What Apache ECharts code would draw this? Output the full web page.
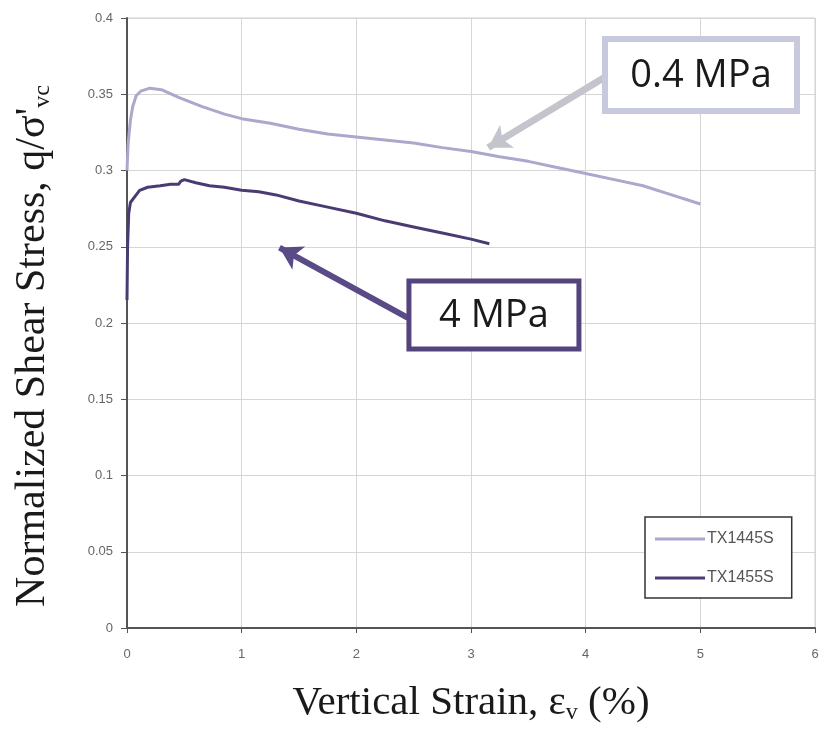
<!DOCTYPE html>
<html>
<head>
<meta charset="utf-8">
<script src="https://cdn.jsdelivr.net/npm/echarts@6/dist/echarts.min.js"></script>
<style>
  html, body { margin: 0; padding: 0; background: #fff; }
  #chart { width: 822px; height: 730px; }
</style>
</head>
<body>
<div id="chart"></div>
<script>
// Strain (%) and normalized shear stress for the two triaxial tests
const strainTX1445S = [0, 0.01, 0.03, 0.05, 0.08, 0.12, 0.2, 0.3, 0.45, 0.65, 0.85, 1.0, 1.25, 1.5, 1.75, 2.0, 2.25, 2.5, 2.75, 3.0, 3.25, 3.5, 3.75, 4.0, 4.25, 4.5, 4.75, 5.0];
const stressTX1445S = [0.300, 0.318, 0.333, 0.342, 0.349, 0.352, 0.354, 0.353, 0.348, 0.342, 0.337, 0.334, 0.331, 0.327, 0.324, 0.322, 0.320, 0.318, 0.315, 0.3125, 0.309, 0.306, 0.302, 0.298, 0.294, 0.290, 0.284, 0.278];

const strainTX1455S = [0, 0.005, 0.015, 0.03, 0.06, 0.11, 0.18, 0.29, 0.38, 0.45, 0.47, 0.5, 0.6, 0.72, 0.85, 1.0, 1.15, 1.3, 1.5, 1.75, 2.0, 2.25, 2.5, 2.75, 3.0, 3.16];
const stressTX1455S = [0.215, 0.250, 0.272, 0.279, 0.282, 0.287, 0.289, 0.290, 0.291, 0.291, 0.293, 0.294, 0.292, 0.290, 0.289, 0.287, 0.286, 0.284, 0.280, 0.276, 0.272, 0.267, 0.263, 0.259, 0.255, 0.252];

const seriesNames = ['TX1445S', 'TX1455S'];
const xTicks = [0, 1, 2, 3, 4, 5, 6];
const yTicks = [0, 0.05, 0.1, 0.15, 0.2, 0.25, 0.3, 0.35, 0.4];

// Callouts: label, box centre and arrow (tail -> head), in data units
const calloutLabels = ['0.4 MPa', '4 MPa'];
const calloutCentres = [[5.006, 0.3626], [3.20, 0.2052]];
const calloutArrows = [
  [[4.17, 0.3613], [3.15, 0.3150]],
  [[2.45, 0.2033], [1.33, 0.2495]]
];

const lightColor = '#aaa8cc';
const darkColor = '#4b3b73';

const zip = (xs, ys) => xs.map((x, i) => [x, ys[i]]);

const chart = echarts.init(document.getElementById('chart'), null, { renderer: 'canvas' });

const tickFont = { fontFamily: 'Liberation Sans', fontSize: 13, color: '#666' };
const titleSub = { fontFamily: 'Liberation Serif', fontSize: 24, color: '#1a1a1a', verticalAlign: 'bottom', padding: [20, 0, 0, 0] };

chart.setOption({
  animation: false,
  backgroundColor: '#fff',
  grid: {
    left: 127, right: 7, top: 18, bottom: 102, outerBoundsMode: 'none',
    show: true, borderColor: '#d0d0d0', borderWidth: 1
  },
  xAxis: {
    type: 'value', min: 0, max: 6, interval: 1,
    name: 'Vertical Strain, ε{sub|v} (%)',
    nameLocation: 'middle', nameGap: 53,
    nameTextStyle: {
      fontFamily: 'Liberation Serif', fontSize: 41, color: '#1a1a1a',
      rich: { sub: titleSub }
    },
    axisLine: { lineStyle: { color: '#555', width: 2 } },
    axisTick: { show: true, length: 5, lineStyle: { color: '#555' } },
    axisLabel: Object.assign({ margin: 20, formatter: v => xTicks.includes(v) ? String(v) : '' }, tickFont),
    splitLine: { show: true, lineStyle: { color: '#d6d6d6', width: 1 } }
  },
  yAxis: {
    type: 'value', min: 0, max: 0.4, interval: 0.05,
    name: "Normalized Shear Stress, q/σ'{sub|vc}",
    nameLocation: 'middle', nameGap: 72, nameRotate: 90,
    nameTextStyle: {
      fontFamily: 'Liberation Serif', fontSize: 42, color: '#1a1a1a',
      padding: [0, 46, 0, 0],
      rich: { sub: titleSub }
    },
    axisLine: { show: true, lineStyle: { color: '#555', width: 2 } },
    axisTick: { show: true, length: 6, lineStyle: { color: '#555' } },
    axisLabel: Object.assign({ margin: 14, formatter: v => {
      const t = yTicks.find(k => Math.abs(k - v) < 1e-9);
      return t === undefined ? '' : String(+t.toFixed(2));
    } }, tickFont),
    splitLine: { show: true, lineStyle: { color: '#d6d6d6', width: 1 } }
  },
  legend: {
    orient: 'vertical', left: 645, top: 517,
    padding: [14, 18, 12, 10], itemGap: 23,
    icon: 'rect', itemWidth: 50, itemHeight: 3,
    borderColor: '#333', borderWidth: 1.5, backgroundColor: '#fff',
    textStyle: { fontFamily: 'Liberation Sans', fontSize: 16, color: '#555', padding: [0, 0, 0, -3] },
    data: seriesNames
  },
  series: [
    {
      name: seriesNames[0], type: 'line', showSymbol: false, symbol: 'none',
      data: zip(strainTX1445S, stressTX1445S),
      lineStyle: { color: lightColor, width: 3 }, itemStyle: { color: lightColor },
      markLine: {
        silent: true, symbol: ['none', 'arrow'], symbolSize: [20, 22],
        label: { show: false },
        lineStyle: { color: '#c4c4cc', width: 7, type: 'solid' },
        data: [[{ coord: calloutArrows[0][0] }, { coord: calloutArrows[0][1] }]]
      }
    },
    {
      name: seriesNames[1], type: 'line', showSymbol: false, symbol: 'none',
      data: zip(strainTX1455S, stressTX1455S),
      lineStyle: { color: darkColor, width: 3 }, itemStyle: { color: darkColor },
      markLine: {
        silent: true, symbol: ['none', 'arrow'], symbolSize: [20, 22],
        label: { show: false },
        lineStyle: { color: '#5a4a86', width: 6, type: 'solid' },
        data: [[{ coord: calloutArrows[1][0] }, { coord: calloutArrows[1][1] }]]
      }
    }
  ]
});

// Callout boxes positioned from their data-space centres
const boxStyles = [
  { w: 192, h: 72, stroke: '#c9c9dd', lw: 6 },
  { w: 170, h: 68, stroke: '#54447e', lw: 5 }
];
const graphics = [];
calloutLabels.forEach((label, i) => {
  const [cx, cy] = chart.convertToPixel({ gridIndex: 0 }, calloutCentres[i]);
  const s = boxStyles[i];
  graphics.push({
    type: 'rect', z: 100,
    shape: { x: cx - s.w / 2, y: cy - s.h / 2, width: s.w, height: s.h },
    style: { fill: '#fff', stroke: s.stroke, lineWidth: s.lw }
  });
  graphics.push({
    type: 'text', z: 101, x: cx, y: cy + 1,
    style: { text: label, fill: '#1a1a1a', font: '38px "Open Sans"', align: 'center', verticalAlign: 'middle' }
  });
});
chart.setOption({ graphic: graphics });
</script>
</body>
</html>
